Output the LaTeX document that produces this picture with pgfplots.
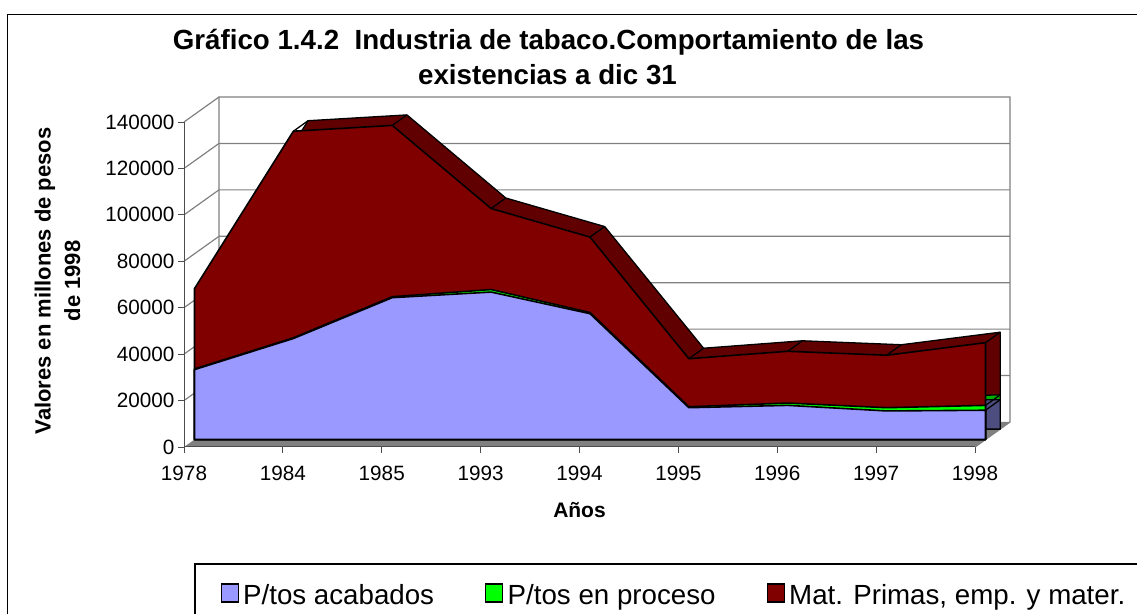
\documentclass[border=0pt]{standalone}
\usepackage{pgfplots}
\pgfplotsset{compat=1.18}
\usepackage{pgfplotstable}
\usepackage{fontspec}
\setmainfont{Liberation Sans}
\definecolor{acab}{HTML}{9999FF}
\definecolor{acabD}{HTML}{4D4D80}
\definecolor{proc}{HTML}{00FF00}
\definecolor{procD}{HTML}{00B000}
\definecolor{matp}{HTML}{800000}
\definecolor{matpD}{HTML}{600000}
\definecolor{wall}{HTML}{808080}

% A = P/tos acabados, P = P/tos en proceso, M = Mat. Primas, emp. y mater.
\pgfplotstableread{
x A P M
0 30100 300 34600
1 43500 300 89000
2 61100 400 73800
3 63500 1100 34900
4 54200 500 32500
5 13700 400 20700
6 14700 1000 22300
7 12300 1400 22600
8 12600 2100 27000
}\data

\begin{document}
\begin{tikzpicture}[x=1pt,y=1pt]
\useasboundingbox (0,0) rectangle (1137,613);
\draw[black, line width=1.2pt] (7.5,-5) -- (7.5,598.5) -- (1145,598.5);
\begin{axis}[
  at={(184pt,166pt)}, anchor=south west,
  scale only axis, width=791pt, height=325pt,
  xmin=0, xmax=8, ymin=0, ymax=140000,
  clip=false,
  axis lines=left, axis line style={-, draw=black!70, line width=1pt},
  xtick={0,...,8},
  xticklabels={1978,1984,1985,1993,1994,1995,1996,1997,1998},
  ytick={0,20000,40000,60000,80000,100000,120000,140000},
  scaled y ticks=false,
  yticklabel style={/pgf/number format/fixed, /pgf/number format/1000 sep={}},
  /pgf/number format/assume math mode=true,
  tick align=outside, major tick length=6pt,
  tick style={black!70, line width=0.8pt},
  tick label style={font=\fontsize{20.7}{24}\selectfont},
  xticklabel shift=10pt,
  xlabel={Años},
  xlabel style={at={(axis description cs:0.5,-0.2154)}, anchor=base, font=\bfseries\fontsize{21}{25}\selectfont},
  legend style={at={(axis description cs:0.04596,-0.4185)}, anchor=north west, draw=none, fill=none,
    inner sep=0pt, font=\fontsize{27.7}{32}\selectfont, nodes={inner sep=0pt},
    /tikz/every odd column/.append style={column sep=4.3pt},
    /tikz/every even column/.append style={column sep=51pt}},
  legend columns=3, legend cell align=left,
  legend image code/.code={\draw[#1, draw=black, line width=1.3pt] (0pt,-7pt) rectangle (17pt,11pt);},
]
% floor and walls
\fill[wall] (axis cs:0,0) -- (axis cs:8,0) -- (axis cs:8.354,10770) -- (axis cs:0.354,10770) -- cycle;
\draw[wall, line width=1.3pt] (axis cs:0.354,10770) -- (axis cs:0.354,150770) -- (axis cs:8.354,150770) -- (axis cs:8.354,10770) -- (axis cs:8,0);
\pgfplotsinvokeforeach{20000,40000,60000,80000,100000,120000}{
  \draw[wall, line width=1.2pt] (axis cs:0,#1) -- (axis cs:0.354,#1+10770) -- (axis cs:8.354,#1+10770);
}
\draw[wall, line width=1.2pt] (axis cs:0,140000) -- (axis cs:0.354,150770);
\draw[black!70, line width=1pt] (axis cs:0,0) -- (axis cs:8,0);
\draw[black!70, line width=1pt] (axis cs:0,0) -- (axis cs:0,140000);

% back (depth) copies
\addplot[fill=matpD, draw=black, line width=1.3pt, line join=round, xshift=25.2pt, yshift=18pt, forget plot]
  table[x=x, y expr=\thisrow{A}+\thisrow{P}+\thisrow{M}] {\data} \closedcycle;
\addplot[fill=procD, draw=black, line width=1.3pt, line join=round, xshift=25.2pt, yshift=18pt, forget plot]
  table[x=x, y expr=\thisrow{A}+\thisrow{P}] {\data} \closedcycle;
\addplot[fill=acabD, draw=black, line width=1.3pt, line join=round, xshift=25.2pt, yshift=18pt, forget plot]
  table[x=x, y=A] {\data} \closedcycle;
% crease lines
\addplot[-, draw=black, line width=1.3pt, xshift=10.5pt, yshift=7.5pt, quiver={u=0.1487, v=4523}, forget plot]
  table[x=x, y expr=\thisrow{A}+\thisrow{P}+\thisrow{M}] {\data};
\addplot[-, draw=black, line width=1.3pt, xshift=10.5pt, yshift=7.5pt, quiver={u=0.1487, v=4523}, forget plot]
  table[x=x, y expr=\thisrow{A}+\thisrow{P}] {\data};
\addplot[-, draw=black, line width=1.3pt, xshift=10.5pt, yshift=7.5pt, quiver={u=0.1487, v=4523}, forget plot]
  table[x=x, y=A] {\data};
% front faces
\addplot[fill=matp, draw=black, line width=1.6pt, line join=round, xshift=10.5pt, yshift=7.5pt, forget plot]
  table[x=x, y expr=\thisrow{A}+\thisrow{P}+\thisrow{M}] {\data} \closedcycle;
\addplot[fill=proc, draw=black, line width=1.6pt, line join=round, xshift=10.5pt, yshift=7.5pt, forget plot]
  table[x=x, y expr=\thisrow{A}+\thisrow{P}] {\data} \closedcycle;
\addplot[fill=acab, draw=black, line width=1.6pt, line join=round, xshift=10.5pt, yshift=7.5pt, forget plot]
  table[x=x, y=A] {\data} \closedcycle;

\addlegendimage{fill=acab}
\addlegendentry{P/tos acabados}
\addlegendimage{fill=proc}
\addlegendentry{P/tos en proceso}
\addlegendimage{fill=matp}
\addlegendentry{Mat. Primas, emp. y mater.}
\end{axis}
% title
\node[anchor=base, font=\bfseries\fontsize{27.7}{33}\selectfont] at (548.5,563) {Gráfico 1.4.2\ \ Industria de tabaco.Comportamiento de las};
\node[anchor=base, font=\bfseries\fontsize{27.7}{33}\selectfont] at (547.5,528) {existencias a dic 31};
% y label
\node[rotate=90, anchor=base, font=\bfseries\fontsize{22}{26}\selectfont] at (50.5,332) {Valores en millones de pesos};
\node[rotate=90, anchor=base, font=\bfseries\fontsize{22}{26}\selectfont] at (80,332) {de 1998};
% legend frame
\draw[black, line width=1.2pt] (195,-5) -- (195,49) -- (1145,49);
\end{tikzpicture}
\end{document}
